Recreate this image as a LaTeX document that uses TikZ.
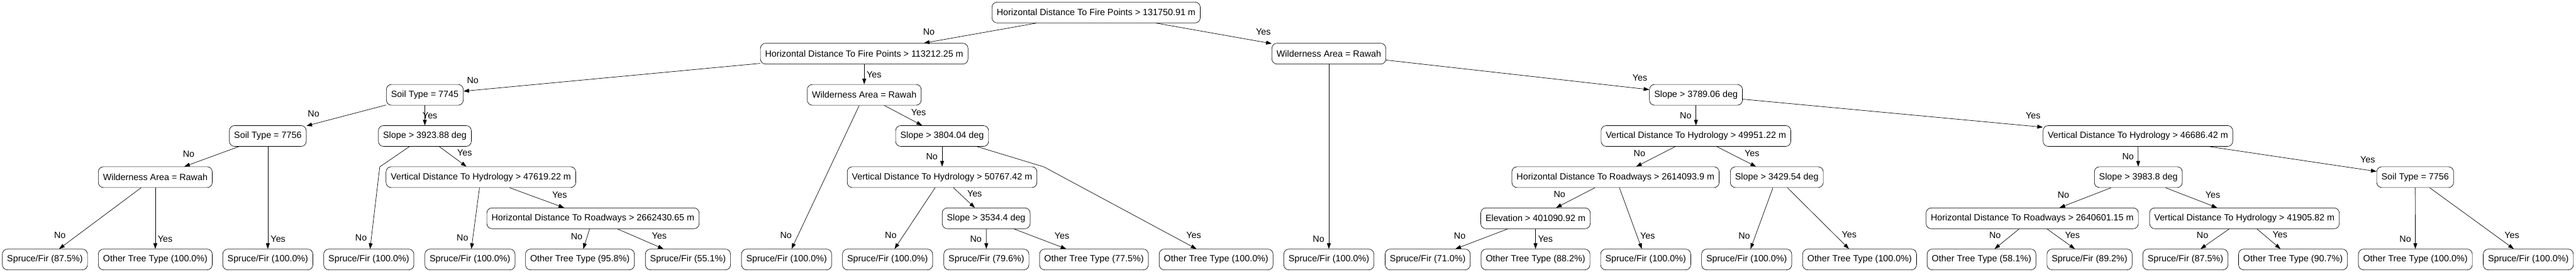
\documentclass[tikz,border=0pt]{standalone}
\usepackage{fontspec}
\setmainfont{Liberation Sans}
\usetikzlibrary{arrows.meta}

\begin{document}
\begin{tikzpicture}[ctNode/.style={draw, rounded corners=0.12cm, line width=0.28pt, minimum height=0.485cm, inner xsep=0.11cm, inner ysep=0pt, font=\fontsize{6}{7}\selectfont},
    ctLabel/.style={inner sep=0pt, font=\fontsize{6}{7}\selectfont},
    ctArrow/.style={-{Triangle[length=0.13cm, width=0.09cm]}, line width=0.28pt}]

    \path[fill=white, use as bounding box] (0,0) rectangle (60.21,-6.35);

    % Splits
    \node[ctNode] (root) at (25.62, -0.292) {Horizontal Distance To Fire Points > 131750.91 m};
    \node[ctNode] (hdfpB) at (20.20, -1.253) {Horizontal Distance To Fire Points > 113212.25 m};
    \node[ctNode] (wildA) at (31.06, -1.253) {Wilderness Area = Rawah};
    \node[ctNode] (soilA) at (9.93, -2.214) {Soil Type = 7745};
    \node[ctNode] (wildB) at (20.20, -2.214) {Wilderness Area = Rawah};
    \node[ctNode] (slopeA) at (39.64, -2.214) {Slope > 3789.06 deg};
    \node[ctNode] (soilB) at (6.26, -3.175) {Soil Type = 7756};
    \node[ctNode] (slopeB) at (9.93, -3.175) {Slope > 3923.88 deg};
    \node[ctNode] (slopeC) at (22.02, -3.175) {Slope > 3804.04 deg};
    \node[ctNode] (vdhA) at (39.64, -3.175) {Vertical Distance To Hydrology > 49951.22 m};
    \node[ctNode] (vdhB) at (49.97, -3.175) {Vertical Distance To Hydrology > 46686.42 m};
    \node[ctNode] (wildC) at (3.63, -4.136) {Wilderness Area = Rawah};
    \node[ctNode] (vdhC) at (11.24, -4.136) {Vertical Distance To Hydrology > 47619.22 m};
    \node[ctNode] (vdhD) at (22.02, -4.136) {Vertical Distance To Hydrology > 50767.42 m};
    \node[ctNode] (hdrA) at (37.76, -4.136) {Horizontal Distance To Roadways > 2614093.9 m};
    \node[ctNode] (slopeD) at (41.53, -4.136) {Slope > 3429.54 deg};
    \node[ctNode] (slopeE) at (49.98, -4.136) {Slope > 3983.8 deg};
    \node[ctNode] (soilC) at (56.45, -4.136) {Soil Type = 7756};
    \node[ctNode] (hdrB) at (13.86, -5.097) {Horizontal Distance To Roadways > 2662430.65 m};
    \node[ctNode] (slopeF) at (23.05, -5.097) {Slope > 3534.4 deg};
    \node[ctNode] (elev) at (35.89, -5.097) {Elevation > 401090.92 m};
    \node[ctNode] (hdrC) at (47.50, -5.097) {Horizontal Distance To Roadways > 2640601.15 m};
    \node[ctNode] (vdhE) at (52.46, -5.097) {Vertical Distance To Hydrology > 41905.82 m};

    % Leaves
    \node[ctNode] (leafA) at (1.05, -6.058) {Spruce/Fir (87.5\%)};
    \node[ctNode] (leafB) at (3.63, -6.058) {Other Tree Type (100.0\%)};
    \node[ctNode] (leafC) at (6.26, -6.058) {Spruce/Fir (100.0\%)};
    \node[ctNode] (leafD) at (8.62, -6.058) {Spruce/Fir (100.0\%)};
    \node[ctNode] (leafE) at (10.985, -6.058) {Spruce/Fir (100.0\%)};
    \node[ctNode] (leafF) at (13.555, -6.058) {Other Tree Type (95.8\%)};
    \node[ctNode] (leafG) at (16.08, -6.058) {Spruce/Fir (55.1\%)};
    \node[ctNode] (leafH) at (18.385, -6.058) {Spruce/Fir (100.0\%)};
    \node[ctNode] (leafI) at (20.745, -6.058) {Spruce/Fir (100.0\%)};
    \node[ctNode] (leafJ) at (23.055, -6.058) {Spruce/Fir (79.6\%)};
    \node[ctNode] (leafK) at (25.57, -6.058) {Other Tree Type (77.5\%)};
    \node[ctNode] (leafL) at (28.425, -6.058) {Other Tree Type (100.0\%)};
    \node[ctNode] (leafM) at (31.06, -6.058) {Spruce/Fir (100.0\%)};
    \node[ctNode] (leafN) at (33.37, -6.058) {Spruce/Fir (71.0\%)};
    \node[ctNode] (leafO) at (35.89, -6.058) {Other Tree Type (88.2\%)};
    \node[ctNode] (leafP) at (38.465, -6.058) {Spruce/Fir (100.0\%)};
    \node[ctNode] (leafQ) at (40.825, -6.058) {Spruce/Fir (100.0\%)};
    \node[ctNode] (leafR) at (43.465, -6.058) {Other Tree Type (100.0\%)};
    \node[ctNode] (leafS) at (46.315, -6.058) {Other Tree Type (58.1\%)};
    \node[ctNode] (leafT) at (48.84, -6.058) {Spruce/Fir (89.2\%)};
    \node[ctNode] (leafU) at (51.08, -6.058) {Spruce/Fir (87.5\%)};
    \node[ctNode] (leafV) at (53.595, -6.058) {Other Tree Type (90.7\%)};
    \node[ctNode] (leafW) at (56.455, -6.058) {Other Tree Type (100.0\%)};
    \node[ctNode] (leafX) at (59.095, -6.058) {Spruce/Fir (100.0\%)};

    \coordinate (bendSlopeB) at (8.876, -3.896);
    \coordinate (bendSlopeC) at (24.40, -3.896);

    % Branches
    \draw[ctArrow] (root) -- (hdfpB);
    \draw[ctArrow] (root) -- (wildA);
    \draw[ctArrow] (hdfpB) -- (soilA);
    \draw[ctArrow] (hdfpB) -- (wildB);
    \draw[ctArrow] (wildA) -- (leafM);
    \draw[ctArrow] (wildA) -- (slopeA);
    \draw[ctArrow] (soilA) -- (soilB);
    \draw[ctArrow] (soilA) -- (slopeB);
    \draw[ctArrow] (wildB) -- (leafH);
    \draw[ctArrow] (wildB) -- (slopeC);
    \draw[ctArrow] (slopeA) -- (vdhA);
    \draw[ctArrow] (slopeA) -- (vdhB);
    \draw[ctArrow] (soilB) -- (wildC);
    \draw[ctArrow] (soilB) -- (leafC);
    \draw[ctArrow] (slopeB) -- (bendSlopeB) -- (leafD);
    \draw[ctArrow] (slopeB) -- (vdhC);
    \draw[ctArrow] (slopeC) -- (vdhD);
    \draw[ctArrow] (slopeC) -- (bendSlopeC) -- (leafL);
    \draw[ctArrow] (vdhA) -- (hdrA);
    \draw[ctArrow] (vdhA) -- (slopeD);
    \draw[ctArrow] (vdhB) -- (slopeE);
    \draw[ctArrow] (vdhB) -- (soilC);
    \draw[ctArrow] (wildC) -- (leafA);
    \draw[ctArrow] (wildC) -- (leafB);
    \draw[ctArrow] (vdhC) -- (leafE);
    \draw[ctArrow] (vdhC) -- (hdrB);
    \draw[ctArrow] (vdhD) -- (leafI);
    \draw[ctArrow] (vdhD) -- (slopeF);
    \draw[ctArrow] (hdrA) -- (elev);
    \draw[ctArrow] (hdrA) -- (leafP);
    \draw[ctArrow] (slopeD) -- (leafQ);
    \draw[ctArrow] (slopeD) -- (leafR);
    \draw[ctArrow] (slopeE) -- (hdrC);
    \draw[ctArrow] (slopeE) -- (vdhE);
    \draw[ctArrow] (soilC) -- (leafW);
    \draw[ctArrow] (soilC) -- (leafX);
    \draw[ctArrow] (hdrB) -- (leafF);
    \draw[ctArrow] (hdrB) -- (leafG);
    \draw[ctArrow] (slopeF) -- (leafJ);
    \draw[ctArrow] (slopeF) -- (leafK);
    \draw[ctArrow] (elev) -- (leafN);
    \draw[ctArrow] (elev) -- (leafO);
    \draw[ctArrow] (hdrC) -- (leafS);
    \draw[ctArrow] (hdrC) -- (leafT);
    \draw[ctArrow] (vdhE) -- (leafU);
    \draw[ctArrow] (vdhE) -- (leafV);

    % Branch labels
    \node[ctLabel] (lRootNo) at (21.71, -0.741) {No};
    \node[ctLabel] (lRootYes) at (29.53, -0.741) {Yes};
    \node[ctLabel] (lHdfpBNo) at (11.05, -1.871) {No};
    \node[ctLabel] (lHdfpBYes) at (20.43, -1.742) {Yes};
    \node[ctLabel] (lWildANo) at (30.82, -5.581) {No};
    \node[ctLabel] (lWildAYes) at (38.33, -1.814) {Yes};
    \node[ctLabel] (lSoilANo) at (7.33, -2.653) {No};
    \node[ctLabel] (lSoilAYes) at (10.05, -2.693) {Yes};
    \node[ctLabel] (lWildBNo) at (18.37, -5.496) {No};
    \node[ctLabel] (lWildBYes) at (21.47, -2.621) {Yes};
    \node[ctLabel] (lSlopeANo) at (39.40, -2.693) {No};
    \node[ctLabel] (lSlopeAYes) at (47.52, -2.706) {Yes};
    \node[ctLabel] (lSoilBNo) at (4.41, -3.597) {No};
    \node[ctLabel] (lSoilBYes) at (6.50, -5.581) {Yes};
    \node[ctLabel] (lSlopeBNo) at (8.44, -5.549) {No};
    \node[ctLabel] (lSlopeBYes) at (10.86, -3.568) {Yes};
    \node[ctLabel] (lSlopeCNo) at (21.78, -3.657) {No};
    \node[ctLabel] (lSlopeCYes) at (27.90, -5.496) {Yes};
    \node[ctLabel] (lVdhANo) at (38.32, -3.576) {No};
    \node[ctLabel] (lVdhAYes) at (40.95, -3.576) {Yes};
    \node[ctLabel] (lVdhBNo) at (49.74, -3.657) {No};
    \node[ctLabel] (lVdhBYes) at (55.34, -3.726) {Yes};
    \node[ctLabel] (lWildCNo) at (1.40, -5.488) {No};
    \node[ctLabel] (lWildCYes) at (3.86, -5.581) {Yes};
    \node[ctLabel] (lVdhCNo) at (10.81, -5.549) {No};
    \node[ctLabel] (lVdhCYes) at (13.08, -4.556) {Yes};
    \node[ctLabel] (lVdhDNo) at (20.82, -5.488) {No};
    \node[ctLabel] (lVdhDYes) at (22.78, -4.516) {Yes};
    \node[ctLabel] (lHdrANo) at (36.45, -4.536) {No};
    \node[ctLabel] (lHdrAYes) at (38.51, -5.508) {Yes};
    \node[ctLabel] (lSlopeDNo) at (40.77, -5.508) {No};
    \node[ctLabel] (lSlopeDYes) at (43.22, -5.476) {Yes};
    \node[ctLabel] (lSlopeENo) at (48.23, -4.548) {No};
    \node[ctLabel] (lSlopeEYes) at (51.72, -4.548) {Yes};
    \node[ctLabel] (lSoilCNo) at (56.22, -5.581) {No};
    \node[ctLabel] (lSoilCYes) at (58.71, -5.488) {Yes};
    \node[ctLabel] (lHdrBNo) at (13.48, -5.516) {No};
    \node[ctLabel] (lHdrBYes) at (15.41, -5.508) {Yes};
    \node[ctLabel] (lSlopeFNo) at (22.81, -5.581) {No};
    \node[ctLabel] (lSlopeFYes) at (24.82, -5.508) {Yes};
    \node[ctLabel] (lElevNo) at (34.12, -5.508) {No};
    \node[ctLabel] (lElevYes) at (36.12, -5.581) {Yes};
    \node[ctLabel] (lHdrCNo) at (46.63, -5.488) {No};
    \node[ctLabel] (lHdrCYes) at (48.44, -5.488) {Yes};
    \node[ctLabel] (lVdhENo) at (51.48, -5.488) {No};
    \node[ctLabel] (lVdhEYes) at (53.29, -5.476) {Yes};
\end{tikzpicture}
\end{document}
